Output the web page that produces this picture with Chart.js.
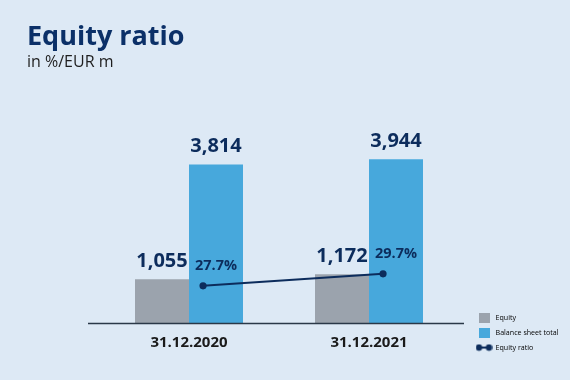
<!DOCTYPE html>
<html>
<head>
<meta charset="utf-8">
<script src="https://cdn.jsdelivr.net/npm/chart.js@4/dist/chart.umd.min.js"></script>
<style>
  html, body { margin: 0; padding: 0; background: #dde9f5; }
  #wrap { position: relative; width: 570px; height: 380px; background: #dde9f5; overflow: hidden; }
  #title { position: absolute; left: 27px; top: 21px; font: 700 27px/27px "Open Sans", sans-serif; color: #0b3068; white-space: nowrap; }
  #subtitle { position: absolute; left: 27px; top: 53px; font: 400 16px/16px "Open Sans", sans-serif; color: #1e1e1e; white-space: nowrap; }
  canvas { position: absolute; left: 0; top: 0; }
</style>
</head>
<body>
<div id="wrap">
  <canvas id="c" width="570" height="380"></canvas>
  <div id="title">Equity ratio</div>
  <div id="subtitle">in %/EUR m</div>
</div>
<script>
// ---- data ----
const categories = ["31.12.2020", "31.12.2021"];
const equity = [1055, 1172];
const balanceSheetTotal = [3814, 3944];
const equityRatio = [27.7, 29.7];
const seriesNames = ["Equity", "Balance sheet total", "Equity ratio"];

const GRAY = "#9ba3ad";
const BLUE = "#47a8dc";
const NAVY = "#0c2c5c";
const FONT = "'Open Sans', sans-serif";

function makeBox(color) {
  const c = document.createElement("canvas");
  c.width = 11; c.height = 10;
  const g = c.getContext("2d");
  g.fillStyle = color; g.fillRect(0, 0, 11, 10);
  return c;
}
function makeLineMarker() {
  const c = document.createElement("canvas");
  c.width = 17; c.height = 8;
  const g = c.getContext("2d");
  g.strokeStyle = NAVY; g.fillStyle = NAVY; g.lineWidth = 2;
  g.beginPath(); g.moveTo(3.5, 4); g.lineTo(13.5, 4); g.stroke();
  g.beginPath(); g.arc(3.5, 4, 3.2, 0, Math.PI * 2); g.fill();
  g.beginPath(); g.arc(13.5, 4, 3.2, 0, Math.PI * 2); g.fill();
  return c;
}
const legendImgs = [makeBox(GRAY), makeBox(BLUE), makeLineMarker()];

// shift the ratio line a quarter bar-width to the right (style only)
const lineShift = {
  id: "lineShift",
  beforeDatasetDraw(chart, args) {
    if (args.index !== 2) return;
    const w = chart.getDatasetMeta(1).data[0].width;
    chart.ctx.save();
    chart.ctx.translate(w * 0.26, 0);
  },
  afterDatasetDraw(chart, args) {
    if (args.index !== 2) return;
    chart.ctx.restore();
  }
};

const labelsPlugin = {
  id: "valueLabels",
  afterDatasetsDraw(chart) {
    const ctx = chart.ctx;
    const area = chart.chartArea;
    ctx.save();
    ctx.strokeStyle = "#2a3848";
    ctx.lineWidth = 1.3;
    ctx.beginPath();
    ctx.moveTo(area.left - 11, area.bottom + 0.5);
    ctx.lineTo(area.right + 5, area.bottom + 0.5);
    ctx.stroke();

    ctx.fillStyle = NAVY;
    ctx.textAlign = "center";
    ctx.textBaseline = "alphabetic";
    ctx.font = "700 20px " + FONT;
    [0, 1].forEach(di => {
      const meta = chart.getDatasetMeta(di);
      const vals = di === 0 ? equity : balanceSheetTotal;
      meta.data.forEach((bar, i) => {
        ctx.fillText(vals[i].toLocaleString("en-US"), bar.x, bar.y - 12.5);
      });
    });
    const lineMeta = chart.getDatasetMeta(2);
    const balMeta = chart.getDatasetMeta(1);
    ctx.font = "700 14.5px " + FONT;
    lineMeta.data.forEach((pt, i) => {
      ctx.fillText(equityRatio[i].toFixed(1) + "%", balMeta.data[i].x, pt.y - 16);
    });
    ctx.restore();
  }
};

new Chart(document.getElementById("c"), {
  type: "bar",
  data: {
    labels: categories,
    datasets: [
      { label: seriesNames[0], data: equity, backgroundColor: GRAY, borderWidth: 0,
        categoryPercentage: 0.6, barPercentage: 1.0, order: 1, yAxisID: "y" },
      { label: seriesNames[1], data: balanceSheetTotal, backgroundColor: BLUE, borderWidth: 0,
        categoryPercentage: 0.6, barPercentage: 1.0, order: 1, yAxisID: "y" },
      { type: "line", label: seriesNames[2], data: equityRatio,
        borderColor: NAVY, backgroundColor: NAVY, borderWidth: 2,
        pointRadius: 3.6, pointBackgroundColor: NAVY, pointBorderWidth: 0,
        order: 0, yAxisID: "y2" }
    ]
  },
  options: {
    responsive: false,
    animation: false,
    events: [],
    layout: { padding: { left: 99, right: 3.9, top: 100, bottom: 21 } },
    scales: {
      x: {
        type: "category",
        offset: true,
        grid: { display: false, drawTicks: false },
        border: { display: false },
        ticks: { color: "#1a1a1a", font: { family: FONT, size: 15, weight: "700" }, padding: 11, maxRotation: 0 },
        afterFit(s) { s.height = 36; }
      },
      y: { display: false, min: 0, max: 5370 },
      y2: { display: false, position: "right", min: 21.5, max: 58.7 },
      spacer: {
        type: "linear", position: "right", display: true,
        grid: { display: false, drawTicks: false }, border: { display: false },
        ticks: { display: false },
        afterFit(s) { s.width = 9.1; }
      }
    },
    plugins: {
      tooltip: { enabled: false },
      legend: {
        position: "right",
        align: "end",
        maxWidth: 98,
        labels: {
          usePointStyle: true,
          pointStyleWidth: 16,
          boxWidth: 16,
          boxHeight: 10,
          padding: 7.9,
          color: "#243a56",
          font: { family: FONT, size: 7.1 },
          generateLabels() {
            return seriesNames.map((t, i) => ({
              text: t, pointStyle: legendImgs[i], fillStyle: "transparent",
              strokeStyle: "transparent", lineWidth: 0, hidden: false, datasetIndex: i
            }));
          }
        }
      }
    }
  },
  plugins: [lineShift, labelsPlugin]
});
</script>
</body>
</html>
